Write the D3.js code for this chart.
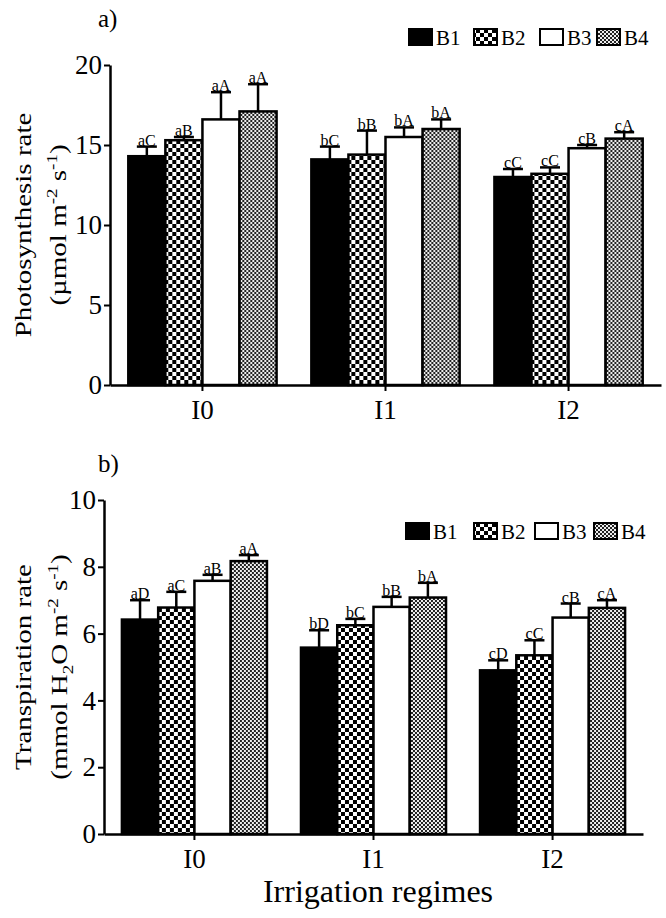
<!DOCTYPE html>
<html>
<head>
<meta charset="utf-8">
<script src="https://cdn.jsdelivr.net/npm/d3@7"></script>
<style>
  body { margin: 0; background: #fff; }
  svg { display: block; font-family: "Liberation Serif", "DejaVu Serif", serif; }
</style>
</head>
<body>
<div id="chart"></div>
<script>
const regimes = ["I0", "I1", "I2"];
const treatments = ["B1", "B2", "B3", "B4"];

// panel a) photosynthesis rate
const photoMean = [
  [14.3, 15.3, 16.6, 17.1],
  [14.1, 14.4, 15.5, 16.0],
  [13.0, 13.2, 14.8, 15.4]
];
const photoErr = [
  [14.9, 15.5, 18.3, 18.8],
  [14.9, 15.9, 16.1, 16.6],
  [13.5, 13.6, 15.0, 15.8]
];
const photoLetters = [
  ["aC", "aB", "aA", "aA"],
  ["bC", "bB", "bA", "bA"],
  ["cC", "cC", "cB", "cA"]
];
const photoTicks = [0, 5, 10, 15, 20];

// panel b) transpiration rate
const transMean = [
  [6.42, 6.78, 7.58, 8.17],
  [5.58, 6.25, 6.8, 7.08],
  [4.9, 5.35, 6.48, 6.77]
];
const transErr = [
  [7.0, 7.25, 7.76, 8.35],
  [6.1, 6.44, 7.1, 7.52],
  [5.2, 5.8, 6.9, 7.0]
];
const transLetters = [
  ["aD", "aC", "aB", "aA"],
  ["bD", "bC", "bB", "bA"],
  ["cD", "cC", "cB", "cA"]
];
const transTicks = [0, 2, 4, 6, 8, 10];

const width = 666, height = 918;

const svg = d3.select("#chart").append("svg")
  .attr("width", width)
  .attr("height", height);

// fill patterns
const defs = svg.append("defs");
const p2 = defs.append("pattern").attr("id", "pat-b2")
  .attr("patternUnits", "userSpaceOnUse").attr("width", 8).attr("height", 8);
p2.append("rect").attr("width", 8).attr("height", 8).attr("fill", "#000");
p2.append("rect").attr("x", 0).attr("y", 0).attr("width", 4).attr("height", 4).attr("fill", "#fff");
p2.append("rect").attr("x", 4).attr("y", 4).attr("width", 4).attr("height", 4).attr("fill", "#fff");

const p4 = defs.append("pattern").attr("id", "pat-b4")
  .attr("patternUnits", "userSpaceOnUse").attr("width", 4).attr("height", 4);
p4.append("rect").attr("width", 4).attr("height", 4).attr("fill", "#222");
p4.append("rect").attr("x", 0).attr("y", 0).attr("width", 2).attr("height", 2).attr("fill", "#eee");
p4.append("rect").attr("x", 2).attr("y", 2).attr("width", 2).attr("height", 2).attr("fill", "#eee");

const fills = d3.scaleOrdinal()
  .domain(treatments)
  .range(["#000", "url(#pat-b2)", "#fff", "url(#pat-b4)"]);

const drawPanel = (opt) => {
  const x = d3.scaleBand()
    .domain(regimes)
    .range([opt.left, opt.right])
    .paddingInner(0.19)
    .paddingOuter(0.1);

  const xb = d3.scaleBand()
    .domain(treatments)
    .range([0, x.bandwidth()]);

  const y = d3.scaleLinear()
    .domain([0, opt.max])
    .range([opt.bottom, opt.top]);

  const g = svg.append("g");

  // panel tag
  g.append("text")
    .attr("x", opt.tagX).attr("y", opt.tagY)
    .attr("font-size", 25)
    .text(opt.tag);

  // bars
  regimes.forEach((r, i) => {
    const grp = g.append("g").attr("transform", `translate(${x(r)},0)`);
    treatments.forEach((t, j) => {
      const bx = xb(t), bw = xb.bandwidth();
      const cx = bx + bw / 2;
      const errY = y(opt.err[i][j]);
      // error bar
      grp.append("line")
        .attr("x1", cx).attr("x2", cx)
        .attr("y1", y(opt.mean[i][j])).attr("y2", errY)
        .attr("stroke", "#000").attr("stroke-width", 2.5);
      grp.append("line")
        .attr("x1", cx - 10).attr("x2", cx + 10)
        .attr("y1", errY).attr("y2", errY)
        .attr("stroke", "#000").attr("stroke-width", 2.5);
      grp.append("rect")
        .attr("x", bx).attr("width", bw)
        .attr("y", y(opt.mean[i][j]))
        .attr("height", y(0) - y(opt.mean[i][j]))
        .attr("fill", fills(t))
        .attr("stroke", "#000").attr("stroke-width", 2.5);
      grp.append("text")
        .attr("x", cx).attr("y", errY - 1)
        .attr("text-anchor", "middle")
        .attr("font-size", 16)
        .text(opt.letters[i][j]);
    });
  });

  // y axis
  const ya = g.append("g")
    .attr("transform", `translate(${opt.left},0)`)
    .call(d3.axisLeft(y).tickValues(opt.ticks).tickSize(6).tickPadding(2).tickSizeOuter(0));
  ya.select(".domain").attr("stroke-width", 2.5);
  ya.selectAll(".tick line").attr("stroke-width", 2);
  ya.selectAll(".tick text")
    .attr("font-family", "Liberation Serif, serif")
    .attr("font-size", 27).attr("fill", "#000");

  // x axis
  const xa = g.append("g")
    .attr("transform", `translate(0,${opt.bottom})`)
    .call(d3.axisBottom(x).tickSize(6).tickPadding(9).tickSizeOuter(0));
  xa.select(".domain").attr("stroke-width", 2.5);
  xa.selectAll(".tick line").attr("stroke-width", 2);
  xa.selectAll(".tick text")
    .attr("font-family", "Liberation Serif, serif")
    .attr("font-size", 27).attr("fill", "#000");

  // y title (narrow glyphs, like the original figure)
  const cy = (opt.top + opt.bottom) / 2;
  g.append("text")
    .attr("transform", `translate(${opt.titleX1},${cy}) rotate(-90) scale(1,0.8)`)
    .attr("text-anchor", "middle")
    .attr("font-size", 29)
    .text(opt.title1);
  const t2 = g.append("text")
    .attr("transform", `translate(${opt.titleX2},${cy}) rotate(-90) scale(1,0.8)`)
    .attr("text-anchor", "middle")
    .attr("font-size", 29);
  opt.title2(t2);

  // legend
  const leg = g.append("g").attr("transform", `translate(0,${opt.legY})`);
  treatments.forEach((t, j) => {
    leg.append("rect")
      .attr("x", opt.legX[j]).attr("y", -8)
      .attr("width", 23).attr("height", 16)
      .attr("fill", fills(t))
      .attr("stroke", "#000").attr("stroke-width", 2);
    leg.append("text")
      .attr("x", opt.legX[j] + 27).attr("y", 8)
      .attr("font-size", 21)
      .text(t);
  });
};

const sup = (sel, s) => sel.append("tspan").attr("font-size", 19).attr("dy", -11).text(s);
const down = (sel, s) => sel.append("tspan").attr("dy", 11).text(s);

drawPanel({
  tag: "a)", tagX: 98, tagY: 27,
  left: 110, right: 661, top: 65, bottom: 385, max: 20,
  mean: photoMean, err: photoErr, letters: photoLetters, ticks: photoTicks,
  titleX1: 31, titleX2: 66,
  title1: "Photosynthesis rate",
  title2: (t) => {
    t.append("tspan").text("(µmol m");
    sup(t, "-2");
    down(t, " s");
    sup(t, "-1");
    down(t, ")");
  },
  legX: [409, 474, 540, 597], legY: 37
});

drawPanel({
  tag: "b)", tagX: 98, tagY: 472,
  left: 104, right: 643, top: 500, bottom: 834, max: 10,
  mean: transMean, err: transErr, letters: transLetters, ticks: transTicks,
  titleX1: 31, titleX2: 67,
  title1: "Transpiration rate",
  title2: (t) => {
    t.append("tspan").text("(mmol H");
    t.append("tspan").attr("font-size", 19).attr("dy", 8).text("2");
    t.append("tspan").attr("dy", -8).text("O m");
    sup(t, "-2");
    down(t, " s");
    sup(t, "-1");
    down(t, ")");
  },
  legX: [406, 474, 535, 594], legY: 531
});

// x title
svg.append("text")
  .attr("x", 378).attr("y", 902)
  .attr("text-anchor", "middle")
  .attr("font-size", 32)
  .text("Irrigation regimes");
</script>
</body>
</html>
